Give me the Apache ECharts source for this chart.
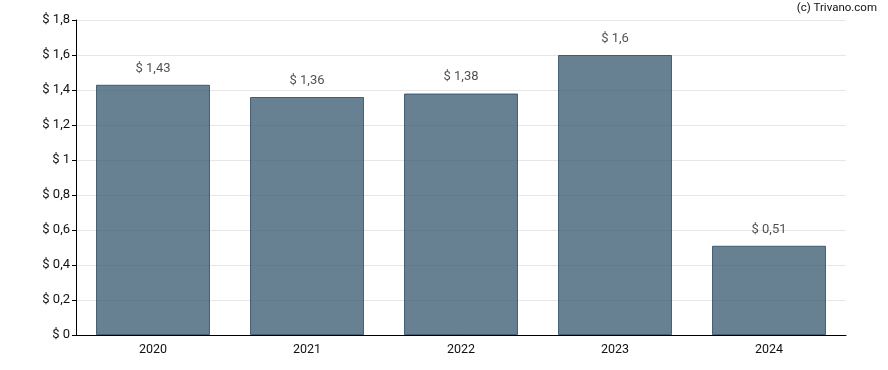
<!DOCTYPE html>
<html><head><meta charset="utf-8">
<script src="https://cdn.jsdelivr.net/npm/echarts@6/dist/echarts.min.js"></script>
<style>html,body{margin:0;padding:0;background:#fff}#c{width:888px;height:370px}</style>
</head><body><div id="c"></div>
<script>
const categories = ['2020','2021','2022','2023','2024'];
const values = [1.43, 1.36, 1.38, 1.6, 0.51];
const yTicks = [0, 0.2, 0.4, 0.6, 0.8, 1, 1.2, 1.4, 1.6, 1.8];

const fmt = v => '$ ' + String(Math.round(v*100)/100).replace('.', ',');
const chart = echarts.init(document.getElementById('c'), null, {renderer:'canvas'});
chart.setOption({
  animation:false,
  backgroundColor:'#fff',
  textStyle:{fontFamily:'Roboto'},
  graphic:[{type:'text', right:11, top:2, style:{text:'(c) Trivano.com', font:'11.5px Roboto', fill:'#111'}}],
  grid:{left:76, right:42, top:20, bottom:35},
  xAxis:{type:'category', data:categories,
    axisLine:{lineStyle:{color:'#000', width:1}},
    axisTick:{alignWithLabel:true, length:4, lineStyle:{color:'#000'}},
    axisLabel:{color:'#111', fontSize:12.5, margin:8, fontFamily:'Roboto'}},
  yAxis:{type:'value', min:0, max:yTicks[yTicks.length-1], interval:0.2,
    axisLine:{show:true, lineStyle:{color:'#000', width:1}},
    axisTick:{show:true, length:4, lineStyle:{color:'#000'}},
    splitLine:{show:true, lineStyle:{color:'#e6e6e6'}},
    axisLabel:{color:'#111', fontSize:13, margin:6, fontFamily:'Roboto', formatter:fmt}},
  series:[{type:'bar', data:values, barWidth:'74%', z:1,
    itemStyle:{color:'#36576e', borderColor:'#1f3f58', borderWidth:1, opacity:0.75},
    label:{show:true, position:'top', distance:10, color:'#111', fontSize:13, fontFamily:'Roboto', formatter:p=>fmt(p.value)}}]
});
</script></body></html>
